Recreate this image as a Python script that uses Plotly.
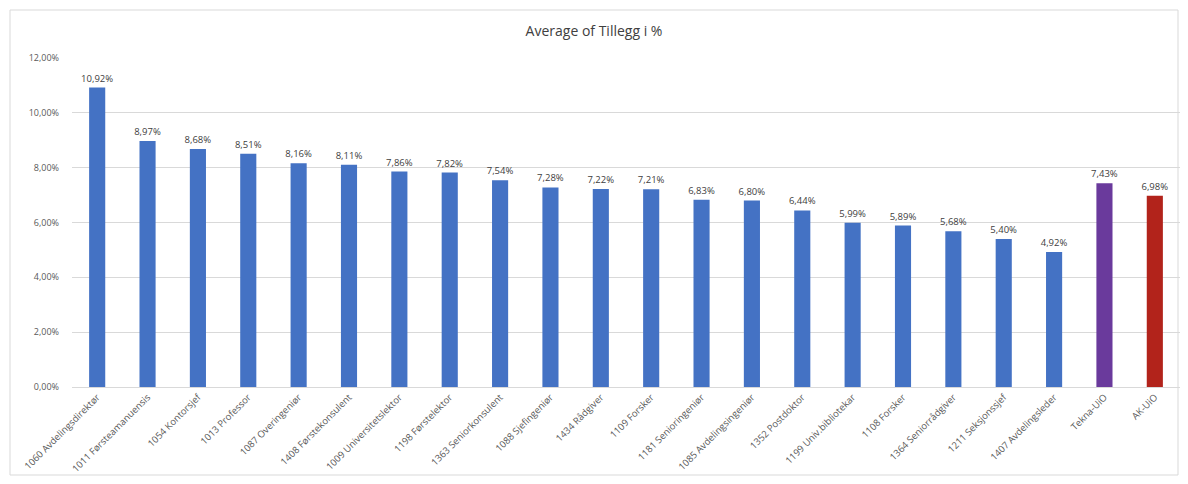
import plotly.graph_objects as go

categories = [
    "1060 Avdelingsdirektør", "1011 Førsteamanuensis", "1054 Kontorsjef", "1013 Professor",
    "1087 Overingeniør", "1408 Førstekonsulent", "1009 Universitetslektor", "1198 Førstelektor",
    "1363 Seniorkonsulent", "1088 Sjefingeniør", "1434 Rådgiver", "1109 Forsker",
    "1181 Senioringeniør", "1085 Avdelingsingeniør", "1352 Postdoktor", "1199 Univ.bibliotekar",
    "1108 Forsker", "1364 Seniorrådgiver", "1211 Seksjonssjef", "1407 Avdelingsleder",
    "Tekna-UiO", "AK-UiO",
]
values_pct = [10.92, 8.97, 8.68, 8.51, 8.16, 8.11, 7.86, 7.82, 7.54, 7.28, 7.22, 7.21,
              6.83, 6.80, 6.44, 5.99, 5.89, 5.68, 5.40, 4.92, 7.43, 6.98]
bar_colors = ["#4472C4"] * 20 + ["#6A3A9C", "#B2231B"]
y_ticks = [0, 0.02, 0.04, 0.06, 0.08, 0.10, 0.12]

W, H = 1188, 484
ml, mr, mt, mb = 72, 8, 58, 97
pw, ph = W - ml - mr, H - mt - mb

fig = go.Figure(go.Bar(
    x=categories,
    y=[v / 100 for v in values_pct],
    marker=dict(color=bar_colors, line=dict(width=0)),
    texttemplate="%{y:.2%}",
    textposition="outside",
    constraintext="none",
    textfont=dict(size=9.5, color="#404040", family="Open Sans"),
    cliponaxis=False,
    hoverinfo="skip",
))

fig.update_layout(
    width=W, height=H,
    margin=dict(l=ml, r=mr, t=mt, b=mb),
    paper_bgcolor="white", plot_bgcolor="white",
    separators=", ",
    bargap=0.68,
    showlegend=False,
    font=dict(family="Open Sans", color="#595959"),
    title=dict(text="Average of Tillegg i %", x=0.5, xanchor="center",
               y=1 - 31 / H, yanchor="middle",
               font=dict(size=14, color="#404040", family="Open Sans")),
    xaxis=dict(tickangle=-45, tickfont=dict(size=9.5, color="#595959"),
               showgrid=False, showline=True, linecolor="#D9D9D9", linewidth=1,
               ticks="", automargin=False),
    yaxis=dict(range=[0, 0.12], tickvals=y_ticks, tickformat=".2%",
               tickfont=dict(size=9, color="#595959"),
               showgrid=True, gridcolor="#D9D9D9", gridwidth=1,
               zeroline=False, showline=False, ticks="", ticklabelstandoff=12,
               automargin=False),
    shapes=[dict(type="rect", xref="paper", yref="paper",
                 x0=(10 - ml) / pw, x1=(1178 - ml) / pw,
                 y0=-(475 - (H - mb)) / ph, y1=((H - mb) - 10) / ph,
                 line=dict(color="#D9D9D9", width=1), layer="below")],
)

fig.write_html("out.html", config={"displayModeBar": False},
               post_script="document.body.style.margin='0px';document.body.style.padding='0px';")
